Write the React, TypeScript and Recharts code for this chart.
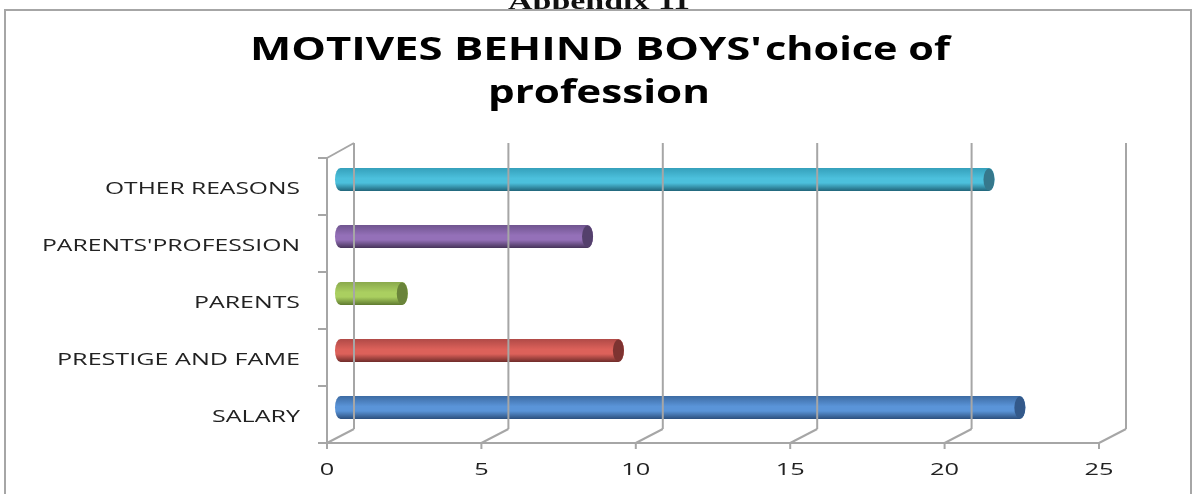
import { BarChart, Bar, XAxis, YAxis } from "recharts";

const categories = ["SALARY", "PRESTIGE AND FAME", "PARENTS", "PARENTS'PROFESSION", "OTHER REASONS"];
const values = [22, 9, 2, 8, 21];
const xTicks = [0, 5, 10, 15, 20, 25];

// light / mid / dark for each cylinder
const barColors = [
  { top: "#3d6ba3", mid: "#5a94d8", low: "#2c4f7c", cap: "#33598a" },
  { top: "#b04a47", mid: "#dc615a", low: "#6f2c2a", cap: "#7d3331" },
  { top: "#8aa94c", mid: "#aacf60", low: "#5f7a30", cap: "#6a843a" },
  { top: "#70558f", mid: "#9470b8", low: "#463459", cap: "#54406c" },
  { top: "#35a0bb", mid: "#4cc0dc", low: "#21657a", cap: "#36788c" },
];

const chartData = categories.map((name, i) => ({ name, value: values[i] }));

const AXIS = "#a6a6a6";
const DEPTH_X = 27;
const DEPTH_Y = 14;
const FLOOR = 443;
const LEFT_TOP = 158;
const WALL_TOP = 143;
const BAND = 57;
const labelWidths: Record<string, number> = {
  SALARY: 88,
  "PRESTIGE AND FAME": 243,
  PARENTS: 106,
  "PARENTS'PROFESSION": 258,
  "OTHER REASONS": 195,
};

function XTick({ x, payload }: any) {
  const label = String(payload.value);
  return (
    <g>
      <line x1={x + DEPTH_X} y1={WALL_TOP} x2={x + DEPTH_X} y2={FLOOR - DEPTH_Y} stroke={AXIS} strokeWidth={2} />
      <line x1={x} y1={FLOOR} x2={x + DEPTH_X} y2={FLOOR - DEPTH_Y} stroke={AXIS} strokeWidth={2} />
      <line x1={x} y1={FLOOR} x2={x} y2={FLOOR + 6} stroke={AXIS} strokeWidth={2} />
      {payload.value === 0 && (
        <line x1={x} y1={LEFT_TOP} x2={x + DEPTH_X} y2={WALL_TOP} stroke={AXIS} strokeWidth={2} />
      )}
      <text
        x={x}
        y={475}
        textAnchor="middle"
        fontFamily="Open Sans"
        fontSize={17}
        fill="#222"
        textLength={label.length * 14.5}
        lengthAdjust="spacingAndGlyphs"
      >
        {label}
      </text>
    </g>
  );
}

function YTick({ y, payload }: any) {
  const name = payload.value as string;
  return (
    <g>
      <line x1={318} y1={y - BAND / 2} x2={327} y2={y - BAND / 2} stroke={AXIS} strokeWidth={2} />
      <line x1={318} y1={y + BAND / 2} x2={327} y2={y + BAND / 2} stroke={AXIS} strokeWidth={2} />
      <text
        x={300}
        y={y + 7}
        textAnchor="end"
        fontFamily="Open Sans"
        fontSize={17}
        fill="#222"
        textLength={labelWidths[name]}
        lengthAdjust="spacingAndGlyphs"
      >
        {name}
      </text>
    </g>
  );
}

function Cylinder({ x, y, width, height, index }: any) {
  const cx0 = x + 13.5;
  const cx1 = cx0 + width;
  const top = y - 7;
  const rx = 5.5;
  const ry = height / 2;
  const c = barColors[index];
  return (
    <g>
      <path
        d={`M${cx0} ${top} L${cx1} ${top} A${rx} ${ry} 0 0 1 ${cx1} ${top + height} L${cx0} ${top + height} A${rx} ${ry} 0 0 1 ${cx0} ${top} Z`}
        fill={`url(#cyl${index})`}
      />
      <ellipse cx={cx1} cy={top + ry} rx={rx} ry={ry - 0.5} fill={c.cap} />
    </g>
  );
}

export default function App() {
  return (
    <div
      style={{
        position: "absolute",
        left: 0,
        top: 0,
        width: 1192,
        height: 494,
        background: "#fff",
        overflow: "hidden",
        filter: "blur(0.6px)",
      }}
    >
      <svg width={1192} height={494} style={{ position: "absolute", left: 0, top: 0 }}>
        <text
          x={599}
          y={9}
          textAnchor="middle"
          fontFamily="Liberation Serif"
          fontWeight="bold"
          fontSize={24}
          fill="#111"
          textLength={182}
          lengthAdjust="spacingAndGlyphs"
        >
          Appendix 11
        </text>
        <rect x={5} y={10} width={1186} height={490} fill="#fff" stroke="#a6a6a6" strokeWidth={2} />
        <text fontFamily="Open Sans" fontWeight="bold" fontSize={33} fill="#000" y={60}>
          <tspan x={250} textLength={512} lengthAdjust="spacingAndGlyphs">
            MOTIVES BEHIND BOYS'
          </tspan>
          <tspan x={765} textLength={185} lengthAdjust="spacingAndGlyphs">
            choice of
          </tspan>
        </text>
        <text
          x={599}
          y={103}
          textAnchor="middle"
          fontFamily="Open Sans"
          fontWeight="bold"
          fontSize={33}
          fill="#000"
          textLength={222}
          lengthAdjust="spacingAndGlyphs"
        >
          profession
        </text>
      </svg>
      <div style={{ position: "absolute", left: 0, top: 0 }}>
        <BarChart
          width={1192}
          height={494}
          layout="vertical"
          data={chartData}
          margin={{ top: 158, right: 93, bottom: 0, left: 0 }}
        >
          <defs>
            {barColors.map((c, i) => (
              <linearGradient key={i} id={`cyl${i}`} x1="0" y1="0" x2="0" y2="1">
                <stop offset="0%" stopColor={c.top} />
                <stop offset="45%" stopColor={c.mid} />
                <stop offset="65%" stopColor={c.mid} />
                <stop offset="100%" stopColor={c.low} />
              </linearGradient>
            ))}
          </defs>
          <XAxis
            type="number"
            domain={[0, 25]}
            ticks={xTicks}
            height={51}
            interval={0}
            axisLine={{ stroke: AXIS, strokeWidth: 2 }}
            tickLine={false}
            tick={<XTick />}
          />
          <YAxis
            type="category"
            dataKey="name"
            reversed
            width={327}
            interval={0}
            axisLine={{ stroke: AXIS, strokeWidth: 2 }}
            tickLine={false}
            tick={<YTick />}
          />
          <Bar dataKey="value" barSize={23} isAnimationActive={false} shape={<Cylinder />} />
        </BarChart>
      </div>
    </div>
  );
}
